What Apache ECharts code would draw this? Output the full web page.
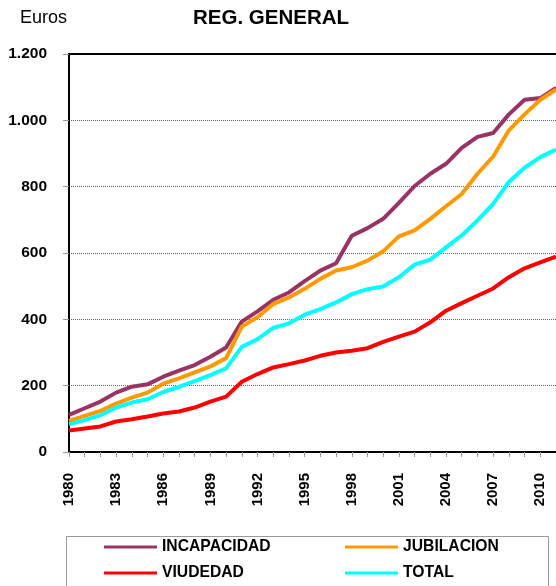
<!DOCTYPE html>
<html>
<head>
<meta charset="utf-8">
<script src="https://cdn.jsdelivr.net/npm/echarts@6/dist/echarts.min.js"></script>
<style>
html,body{margin:0;padding:0;background:#fff;}
#chart{width:556px;height:586px;}
</style>
</head>
<body>
<div id="chart"></div>
<script>
const years = ['1980','1981','1982','1983','1984','1985','1986','1987','1988','1989','1990','1991','1992','1993','1994','1995','1996','1997','1998','1999','2000','2001','2002','2003','2004','2005','2006','2007','2008','2009','2010','2011'];
const incapacidad = [112,132,152,179,197,204,227,245,262,287,315,393,424,459,481,515,547,569,652,675,703,751,802,839,869,917,950,962,1018,1062,1067,1098];
const jubilacion = [94,109,124,146,164,179,206,222,240,258,283,378,406,446,466,492,522,547,557,577,605,650,668,703,741,778,839,891,970,1018,1062,1093];
const viudedad = [65,71,77,92,99,107,116,122,134,152,167,212,235,255,265,276,290,300,305,313,332,348,363,391,426,449,471,493,527,554,572,589];
const total = [84,96,111,134,149,159,181,196,214,232,252,317,340,374,388,414,431,451,476,491,499,527,565,580,617,653,698,748,814,857,889,912];
const seriesNames = ['INCAPACIDAD','JUBILACION','VIUDEDAD','TOTAL'];
const seriesColors = ['#993366','#FF9900','#FF0000','#00FFFF'];
const seriesData = [incapacidad, jubilacion, viudedad, total];

const FONT = "'Liberation Sans', Arial, sans-serif";
const chart = echarts.init(document.getElementById('chart'), null, {renderer:'canvas'});

function fmt(v){
  const s = String(v);
  return s.length > 3 ? s.slice(0, s.length-3) + '.' + s.slice(s.length-3) : s;
}

const legendPos = [
  {left:104, top:539},
  {left:345, top:539},
  {left:104, top:565},
  {left:345, top:565}
];

const option = {
  backgroundColor:'#fff',
  animation:false,
  grid:{left:69, right:0, top:54, bottom:134, containLabel:false},
  xAxis:[{
    type:'category',
    data:years,
    boundaryGap:false,
    axisLine:{show:true, lineStyle:{color:'#000', width:2}},
    axisTick:{show:true, interval:0, length:5, lineStyle:{color:'#999', width:1}},
    axisLabel:{interval:2, rotate:90, margin:21, fontFamily:FONT, fontWeight:'bold', fontSize:15, color:'#000'},
    splitLine:{show:false}
  },{
    type:'category',
    data:years,
    position:'top',
    boundaryGap:false,
    axisLine:{show:true, lineStyle:{color:'#000', width:2}},
    axisTick:{show:false},
    axisLabel:{show:false},
    splitLine:{show:false}
  }],
  yAxis:{
    type:'value',
    min:0, max:1200, interval:200,
    axisLine:{show:true, lineStyle:{color:'#000', width:2}},
    axisTick:{show:true, length:6, lineStyle:{color:'#999', width:1}},
    axisLabel:{margin:22, fontFamily:FONT, fontWeight:'bold', fontSize:15.5, color:'#000', formatter:fmt},
    splitLine:{show:true, lineStyle:{color:'#666', width:1, type:[1,1]}}
  },
  legend: seriesNames.map((n,i)=>({
    data:[n],
    left:legendPos[i].left,
    top:legendPos[i].top,
    orient:'horizontal',
    icon:'rect',
    itemWidth:53,
    itemHeight:3,
    itemGap:0,
    padding:0,
    selectedMode:false,
    textStyle:{fontFamily:FONT, fontWeight:'bold', fontSize:15.7, color:'#000', padding:[0,0,0,0], lineHeight:16}
  })),
  graphic:[
    {type:'rect', left:64, top:534, shape:{width:482, height:60}, style:{fill:'none', stroke:'#999', lineWidth:1}, z:-1},
    {type:'text', left:20, top:9, style:{text:'Euros', fontFamily:FONT, fontSize:18, fill:'#000'}},
    {type:'text', left:193, top:8, style:{text:'REG. GENERAL', fontFamily:FONT, fontWeight:'bold', fontSize:20.5, fill:'#000'}}
  ],
  series: seriesNames.map((n,i)=>({
    name:n,
    type:'line',
    data:seriesData[i],
    symbol:'none',
    lineStyle:{color:seriesColors[i], width:4},
    itemStyle:{color:seriesColors[i]},
    z:2+i
  }))
};
chart.setOption(option);
</script>
</body>
</html>
